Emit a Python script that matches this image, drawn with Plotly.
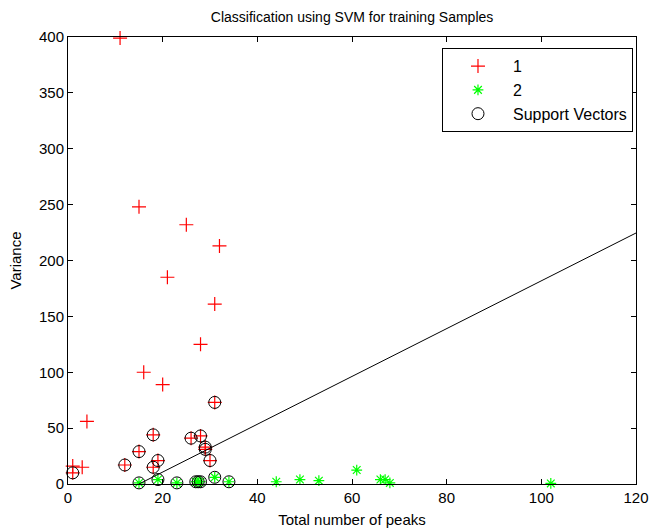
import plotly.graph_objects as go

# Class 1 samples: (total number of peaks, variance) and support-vector flag
class1_peaks = [11, 15, 25, 32, 21, 31, 28, 16, 20, 4, 1, 3,
                1, 12, 15, 18, 18, 19, 26, 28, 29, 29, 30, 31]
class1_var = [399, 248, 232, 213, 185, 161, 125, 100, 89, 56, 16, 15,
              10, 17, 29, 44, 15, 21, 41, 43, 31, 33, 21, 73]
class1_sv = [0, 0, 0, 0, 0, 0, 0, 0, 0, 0, 0, 0,
             1, 1, 1, 1, 1, 1, 1, 1, 1, 1, 1, 1]

# Class 2 samples
class2_peaks = [15, 19, 23, 27, 27.5, 28, 31, 34,
                44, 49, 53, 61, 66, 67, 68, 102]
class2_var = [1, 4, 1, 2, 2, 2, 6, 2,
              2, 4, 3, 12.5, 4, 4, 1, 0.5]
class2_sv = [1, 1, 1, 1, 1, 1, 1, 1,
             0, 0, 0, 0, 0, 0, 0, 0]

# Separating hyperplane end points
boundary_x = [15, 120]
boundary_y = [0, 224.6]

x_ticks = [0, 20, 40, 60, 80, 100, 120]
y_ticks = [0, 50, 100, 150, 200, 250, 300, 350, 400]

sv_x = [p for p, s in zip(class1_peaks, class1_sv) if s] + \
       [p for p, s in zip(class2_peaks, class2_sv) if s]
sv_y = [v for v, s in zip(class1_var, class1_sv) if s] + \
       [v for v, s in zip(class2_var, class2_sv) if s]

FONT = "Liberation Sans, Arial, Helvetica, sans-serif"

fig = go.Figure()
fig.add_trace(go.Scatter(
    x=class1_peaks, y=class1_var, mode="markers", name="1",
    marker=dict(symbol="cross-thin-open", size=10, color="#ff0000",
                line=dict(color="#ff0000", width=1.2)),
    cliponaxis=False))
fig.add_trace(go.Scatter(
    x=class2_peaks, y=class2_var, mode="markers", name="2",
    marker=dict(symbol="asterisk-open", size=9, color="#00ff00",
                line=dict(color="#00ff00", width=1.2)),
    cliponaxis=False))
fig.add_trace(go.Scatter(
    x=sv_x, y=sv_y, mode="markers", name="Support Vectors",
    marker=dict(symbol="circle-open", size=12, color="#000000",
                line=dict(color="#000000", width=1)),
    cliponaxis=False))
fig.add_trace(go.Scatter(
    x=boundary_x, y=boundary_y, mode="lines", showlegend=False,
    line=dict(color="#000000", width=1)))

axis_common = dict(
    showgrid=False, zeroline=False, showline=True, mirror="ticks",
    linecolor="#000000", linewidth=1, ticks="inside", ticklen=5,
    tickcolor="#000000", automargin=False,
    tickfont=dict(family=FONT, size=15, color="#000000"),
)
fig.update_xaxes(range=[0, 120], tickvals=x_ticks, **axis_common,
                 title=dict(text="Total number of peaks", standoff=9,
                            font=dict(family=FONT, size=15, color="#000000")))
fig.update_yaxes(range=[0, 400], tickvals=y_ticks, **axis_common,
                 title=dict(text="Variance", standoff=13,
                            font=dict(family=FONT, size=15, color="#000000")))

fig.update_layout(
    width=649, height=528,
    margin=dict(l=68, r=13, t=37, b=44, autoexpand=False),
    paper_bgcolor="#ffffff", plot_bgcolor="#ffffff",
    font=dict(family=FONT, size=15, color="#000000"),
    title=dict(text="Classification using SVM for training Samples",
               x=0.5425, xanchor="center", y=0.968, yanchor="middle",
               font=dict(family=FONT, size=14, color="#000000")),
    legend=dict(x=0.9947, y=0.975, xanchor="right", yanchor="top",
                bgcolor="#ffffff", bordercolor="#000000", borderwidth=1,
                font=dict(family=FONT, size=16, color="#000000"),
                tracegroupgap=0, itemwidth=60),
    showlegend=True,
)

fig.write_html("out.html")
